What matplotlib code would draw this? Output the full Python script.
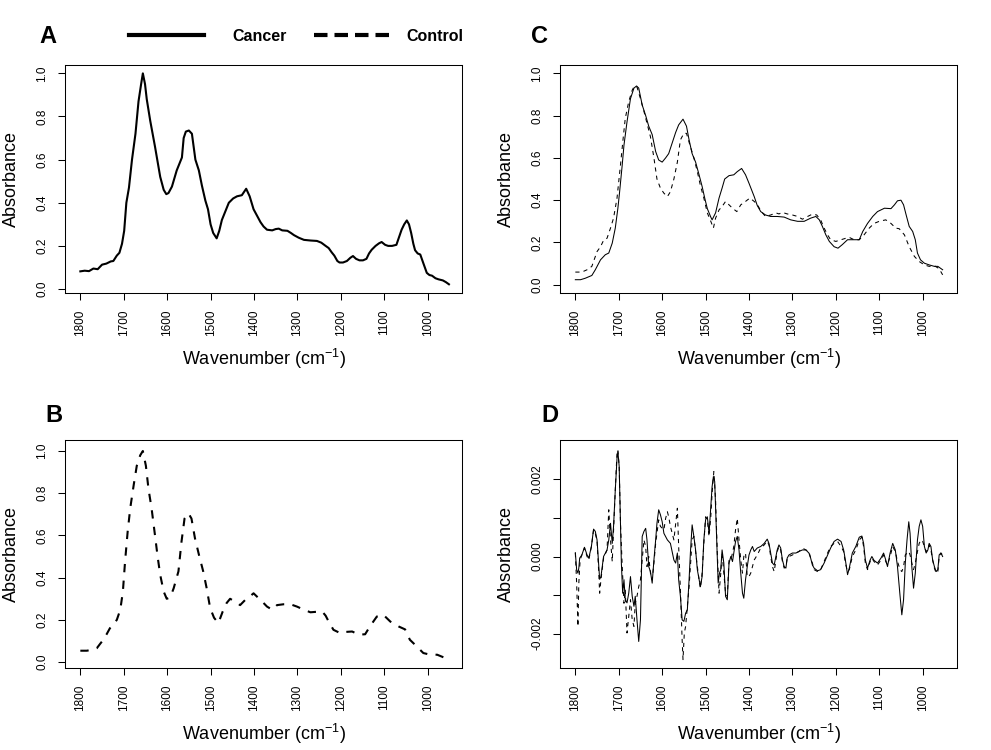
import numpy as np
import matplotlib
matplotlib.use('Agg')
import matplotlib.pyplot as plt
from matplotlib.lines import Line2D

plt.rcParams['font.family'] = ['Liberation Sans', 'DejaVu Sans']
plt.rcParams['mathtext.fontset'] = 'custom'
plt.rcParams['mathtext.rm'] = 'Liberation Sans'
plt.rcParams['mathtext.it'] = 'Liberation Sans:italic'
plt.rcParams['axes.unicode_minus'] = False

# ---- panel A: cancer mean spectrum ----
wn_a = [1800, 1790, 1780, 1770, 1760, 1750, 1740, 1730, 1724, 1716, 1710, 1704, 1699, 1694,
        1688, 1681, 1673, 1666, 1660, 1656, 1651, 1647, 1639, 1628, 1616, 1608, 1602, 1597,
        1589, 1578, 1566, 1562, 1557, 1550, 1543, 1535, 1527, 1520, 1512, 1506, 1500, 1494,
        1486, 1480, 1474, 1466, 1458, 1448, 1439, 1428, 1418, 1410, 1401, 1393, 1385, 1378,
        1370, 1358, 1350, 1343, 1335, 1323, 1315, 1308, 1297, 1285, 1270, 1255, 1245, 1235,
        1228, 1221, 1215, 1208, 1203, 1195, 1186, 1178, 1172, 1165, 1157, 1149, 1141, 1135,
        1129, 1120, 1112, 1106, 1098, 1091, 1082, 1072, 1066, 1060, 1054, 1048, 1043, 1038,
        1033, 1029, 1023, 1017, 1010, 1002, 996, 990, 982, 975, 965, 958, 951]
abs_a = [0.082, 0.085, 0.083, 0.095, 0.092, 0.113, 0.118, 0.128, 0.13, 0.155, 0.168, 0.21, 0.27, 0.40,
         0.47, 0.60, 0.72, 0.87, 0.95, 1.0, 0.95, 0.88, 0.78, 0.66, 0.52, 0.46, 0.44, 0.445,
         0.475, 0.55, 0.61, 0.70, 0.73, 0.735, 0.72, 0.60, 0.55, 0.48, 0.41, 0.37, 0.30, 0.26,
         0.235, 0.27, 0.32, 0.36, 0.40, 0.42, 0.43, 0.435, 0.465, 0.43, 0.37, 0.34, 0.31, 0.29,
         0.275, 0.272, 0.278, 0.28, 0.272, 0.27, 0.26, 0.25, 0.238, 0.228, 0.225, 0.223, 0.215, 0.2,
         0.19, 0.17, 0.155, 0.13, 0.123, 0.123, 0.13, 0.145, 0.153, 0.14, 0.133, 0.133, 0.14, 0.165,
         0.182, 0.2, 0.212, 0.218, 0.205, 0.2, 0.2, 0.205, 0.24, 0.275, 0.3, 0.318, 0.3, 0.26,
         0.21, 0.18, 0.165, 0.16, 0.12, 0.075, 0.065, 0.062, 0.05, 0.045, 0.04, 0.032, 0.022]

# ---- panel B: control mean spectrum ----
wn_b = [1800, 1785, 1770, 1762, 1755, 1747, 1740, 1732, 1724, 1716, 1708, 1702, 1697, 1691,
        1685, 1677, 1670, 1662, 1656, 1649, 1643, 1636, 1628, 1622, 1616, 1608, 1601, 1593,
        1585, 1574, 1567, 1560, 1551, 1544, 1536, 1527, 1517, 1509, 1501, 1492, 1482, 1472,
        1463, 1455, 1444, 1432, 1420, 1410, 1401, 1393, 1385, 1370, 1358, 1347, 1332, 1316,
        1301, 1285, 1270, 1258, 1243, 1235, 1228, 1217, 1201, 1189, 1174, 1158, 1144, 1133,
        1117, 1102, 1086, 1067, 1052, 1041, 1025, 1010, 994, 978, 959]
abs_b = [0.054, 0.054, 0.06, 0.066, 0.085, 0.106, 0.13, 0.16, 0.18, 0.20, 0.248, 0.334, 0.476, 0.618,
         0.73, 0.84, 0.93, 0.98, 1.0, 0.93, 0.82, 0.73, 0.60, 0.50, 0.413, 0.334, 0.30, 0.306,
         0.35, 0.43, 0.57, 0.68, 0.705, 0.68, 0.587, 0.51, 0.43, 0.35, 0.256, 0.21, 0.185, 0.24,
         0.28, 0.30, 0.287, 0.27, 0.295, 0.31, 0.326, 0.31, 0.295, 0.263, 0.248, 0.27, 0.274, 0.274,
         0.263, 0.248, 0.236, 0.238, 0.24, 0.22, 0.192, 0.153, 0.137, 0.143, 0.145, 0.13, 0.132, 0.169,
         0.216, 0.224, 0.192, 0.169, 0.155, 0.106, 0.074, 0.043, 0.035, 0.035, 0.019]

# ---- panel C: both spectra ----
wn_c_cancer = [1800, 1788, 1777, 1762, 1754, 1742, 1731, 1723, 1715, 1708, 1702, 1698, 1692, 1688,
               1681, 1673, 1665, 1659, 1654, 1646, 1638, 1631, 1623, 1615, 1608, 1600, 1592, 1585,
               1577, 1569, 1562, 1552, 1544, 1538, 1531, 1523, 1515, 1508, 1502, 1496, 1488, 1485,
               1477, 1469, 1462, 1456, 1446, 1435, 1427, 1417, 1408, 1400, 1388, 1381, 1373, 1362,
               1350, 1335, 1319, 1304, 1288, 1273, 1258, 1246, 1238, 1231, 1223, 1215, 1204, 1195,
               1185, 1173, 1162, 1146, 1138, 1127, 1115, 1104, 1088, 1073, 1065, 1058, 1050, 1044,
               1038, 1031, 1023, 1017, 1012, 1005, 996, 985, 973, 965, 954]
c_cancer = [0.024, 0.024, 0.031, 0.044, 0.071, 0.118, 0.142, 0.15, 0.197, 0.268, 0.362, 0.44, 0.567, 0.66,
            0.77, 0.88, 0.93, 0.94, 0.93, 0.85, 0.80, 0.75, 0.71, 0.63, 0.59, 0.58, 0.60, 0.62,
            0.67, 0.72, 0.756, 0.783, 0.75, 0.685, 0.62, 0.58, 0.52, 0.465, 0.41, 0.36, 0.32, 0.307,
            0.34, 0.41, 0.457, 0.50, 0.516, 0.52, 0.535, 0.55, 0.52, 0.48, 0.417, 0.375, 0.346, 0.33,
            0.323, 0.323, 0.32, 0.307, 0.30, 0.30, 0.315, 0.323, 0.307, 0.276, 0.236, 0.205, 0.18, 0.173,
            0.19, 0.213, 0.213, 0.213, 0.252, 0.29, 0.323, 0.346, 0.362, 0.36, 0.378, 0.397, 0.40, 0.378,
            0.33, 0.276, 0.252, 0.213, 0.15, 0.118, 0.102, 0.094, 0.087, 0.087, 0.071]

wn_c_control = [1800, 1785, 1773, 1762, 1750, 1742, 1735, 1727, 1719, 1712, 1704, 1696, 1690, 1685,
                1677, 1669, 1664, 1658, 1650, 1642, 1635, 1627, 1619, 1612, 1604, 1596, 1588, 1581,
                1573, 1565, 1558, 1550, 1544, 1536, 1527, 1519, 1512, 1504, 1496, 1488, 1482, 1477,
                1469, 1462, 1454, 1446, 1438, 1428, 1419, 1408, 1398, 1388, 1381, 1373, 1362, 1350,
                1338, 1331, 1323, 1312, 1300, 1288, 1277, 1265, 1254, 1244, 1235, 1227, 1219, 1212,
                1200, 1188, 1177, 1169, 1158, 1146, 1135, 1123, 1112, 1100, 1085, 1073, 1062, 1054,
                1042, 1031, 1019, 1008, 996, 985, 973, 962, 954]
c_control = [0.06, 0.06, 0.071, 0.087, 0.157, 0.18, 0.21, 0.22, 0.268, 0.315, 0.41, 0.567, 0.69, 0.787,
             0.866, 0.92, 0.94, 0.935, 0.88, 0.82, 0.764, 0.70, 0.60, 0.50, 0.457, 0.433, 0.417, 0.44,
             0.50, 0.58, 0.685, 0.716, 0.716, 0.66, 0.60, 0.535, 0.47, 0.41, 0.34, 0.30, 0.268, 0.315,
             0.354, 0.37, 0.394, 0.378, 0.362, 0.346, 0.378, 0.394, 0.41, 0.394, 0.38, 0.35, 0.323, 0.33,
             0.34, 0.335, 0.342, 0.335, 0.33, 0.323, 0.31, 0.323, 0.334, 0.33, 0.307, 0.268, 0.236, 0.213,
             0.205, 0.213, 0.22, 0.224, 0.213, 0.213, 0.236, 0.268, 0.29, 0.30, 0.307, 0.29, 0.268, 0.265,
             0.236, 0.18, 0.134, 0.11, 0.094, 0.087, 0.09, 0.076, 0.047]

# ---- panel D: second derivative spectra (values in units of 1e-3) ----
wn_d_cancer = [1800, 1797, 1794, 1792, 1790, 1785, 1779, 1773, 1769, 1763, 1758, 1754, 1750, 1746,
               1744, 1741, 1735, 1727, 1723, 1719, 1715, 1712, 1708, 1704, 1702, 1699, 1696, 1694,
               1691, 1688, 1685, 1681, 1677, 1673, 1669, 1665, 1662, 1658, 1654, 1650, 1646, 1642,
               1638, 1635, 1631, 1627, 1623, 1619, 1615, 1612, 1608, 1604, 1600, 1596, 1588, 1581,
               1573, 1569, 1565, 1562, 1558, 1554, 1550, 1546, 1542, 1538, 1535, 1531, 1527, 1523,
               1519, 1515, 1512, 1508, 1504, 1500, 1496, 1492, 1488, 1485, 1482, 1479, 1477, 1473,
               1471, 1468, 1465, 1462, 1458, 1454, 1450, 1446, 1442, 1438, 1435, 1431, 1427, 1423,
               1419, 1415, 1412, 1408, 1404, 1400, 1396, 1392, 1388, 1381, 1373, 1365, 1358, 1354,
               1350, 1346, 1342, 1338, 1335, 1331, 1327, 1323, 1319, 1315, 1312, 1308, 1300, 1292,
               1285, 1277, 1269, 1262, 1258, 1254, 1250, 1242, 1235, 1227, 1219, 1212, 1204, 1196,
               1188, 1182, 1178, 1173, 1169, 1162, 1154, 1146, 1140, 1136, 1132, 1127, 1121, 1117,
               1112, 1104, 1096, 1090, 1085, 1081, 1075, 1069, 1063, 1058, 1052, 1048, 1044, 1040,
               1036, 1032, 1029, 1025, 1021, 1017, 1012, 1008, 1004, 1000, 996, 992, 988, 985,
               981, 977, 973, 969, 965, 962, 958, 954]
d_cancer_milli = [0.10, -0.34, -0.43, -0.30, -0.04, 0.04, 0.24, 0.04, -0.04, 0.26, 0.71, 0.65, 0.43, -0.26,
                  -0.59, -0.52, 0.0, 0.17, 0.43, 0.86, 0.34, 0.78, 1.72, 2.54, 2.72, 2.33, 0.86, -0.17,
                  -0.95, -0.6, -1.12, -1.2, -0.95, -0.52, -1.03, -1.29, -1.03, -1.64, -2.2, -1.64, 0.52, 0.65,
                  0.73, 0.43, -0.26, -0.39, -0.69, -0.09, 0.43, 0.86, 1.21, 1.08, 0.9, 0.6, 0.43, 0.34,
                  -0.09, -0.17, 0.09, -0.6, -1.03, -1.64, -1.68, -1.47, -1.38, -0.6, 0.09, 0.82, 0.52, 0.17,
                  -0.34, -0.6, -0.78, -0.52, 0.43, 0.95, 1.03, 0.6, 1.29, 1.81, 2.07, 1.94, 1.29, -0.09,
                  -0.69, -0.43, -0.34, 0.17, -0.17, -1.03, -1.12, -0.17, 0.0, -0.13, 0.09, 0.39, 0.52, 0.17,
                  -0.43, -0.95, -1.08, -0.6, -0.26, 0.04, 0.17, 0.26, 0.13, 0.22, 0.26, 0.34, 0.45, 0.34,
                  0.09, -0.17, -0.22, 0.0, 0.17, 0.30, 0.22, -0.09, -0.26, -0.30, -0.04, 0.04, 0.09, 0.09,
                  0.13, 0.17, 0.17, 0.09, -0.04, -0.22, -0.30, -0.37, -0.34, -0.17, 0.04, 0.22, 0.39, 0.45,
                  0.39, 0.17, -0.09, -0.47, -0.30, 0.09, 0.26, 0.50, 0.53, 0.34, -0.09, -0.30, -0.09, 0.0,
                  -0.10, -0.17, -0.04, 0.09, -0.09, -0.26, 0.09, 0.34, 0.17, -0.26, -1.03, -1.51, -1.12, -0.17,
                  0.43, 0.90, 0.60, -0.26, -0.82, -0.43, 0.43, 0.78, 0.95, 0.78, 0.26, 0.09, 0.17, 0.34,
                  0.26, -0.09, -0.26, -0.39, -0.34, 0.04, 0.09, 0.0]

wn_d_control = [1800, 1797, 1794, 1792, 1789, 1785, 1779, 1773, 1769, 1763, 1758, 1754, 1750, 1746,
                1744, 1741, 1735, 1727, 1723, 1719, 1715, 1712, 1708, 1704, 1702, 1699, 1696, 1692,
                1688, 1685, 1681, 1677, 1673, 1669, 1665, 1662, 1658, 1654, 1650, 1646, 1642, 1638,
                1635, 1631, 1627, 1623, 1619, 1615, 1612, 1608, 1604, 1596, 1592, 1588, 1585, 1581,
                1577, 1573, 1565, 1562, 1558, 1554, 1552, 1549, 1546, 1542, 1538, 1535, 1531, 1527,
                1519, 1515, 1512, 1508, 1504, 1500, 1496, 1492, 1488, 1485, 1481, 1477, 1473, 1469,
                1465, 1462, 1458, 1454, 1450, 1446, 1442, 1438, 1435, 1431, 1427, 1423, 1419, 1415,
                1412, 1408, 1404, 1400, 1396, 1392, 1388, 1381, 1373, 1365, 1358, 1354, 1350, 1346,
                1342, 1338, 1335, 1331, 1327, 1323, 1319, 1315, 1312, 1308, 1300, 1292, 1285, 1277,
                1269, 1262, 1258, 1254, 1250, 1242, 1235, 1227, 1219, 1212, 1204, 1196, 1188, 1182,
                1178, 1173, 1169, 1162, 1154, 1146, 1140, 1136, 1132, 1127, 1121, 1117, 1112, 1104,
                1096, 1090, 1085, 1081, 1075, 1069, 1063, 1058, 1052, 1048, 1044, 1040, 1036, 1032,
                1029, 1025, 1021, 1017, 1012, 1008, 1004, 1000, 996, 992, 988, 985, 981, 977,
                973, 969, 965, 962, 958, 954]
d_control_milli = [0.09, -0.69, -1.81, -0.69, -0.09, 0.04, 0.22, 0.0, -0.09, 0.26, 0.69, 0.6, 0.39, -0.43,
                   -0.95, -0.60, -0.04, 0.17, 1.21, 0.43, -0.13, 0.69, 1.72, 2.70, 2.76, 2.33, 0.86, -0.26,
                   -1.21, -0.86, -1.98, -1.55, -1.12, -1.64, -1.81, -1.21, -1.03, -0.78, -0.60, -0.09, 0.43, 0.26,
                   -0.26, 0.0, -0.43, -0.60, -0.17, 0.34, 0.60, 0.95, 0.78, 0.69, 0.99, 1.16, 1.03, 0.78,
                   0.60, 0.43, 1.25, 0.26, -0.86, -2.16, -2.67, -1.98, -1.81, -1.29, -0.78, -0.26, 0.43, 0.52,
                   -0.26, -0.60, -0.82, -0.43, 0.34, 1.03, 0.95, 0.52, 1.03, 1.64, 2.2, 1.47, 0.09, -0.95,
                   -0.43, 0.09, -0.43, -0.95, -1.03, -0.09, -0.09, 0.09, 0.26, 0.69, 0.99, 0.43, -0.09, -0.43,
                   0.0, 0.09, -0.52, -0.52, -0.43, -0.26, -0.09, 0.04, 0.22, 0.30, 0.40, 0.30, 0.0, -0.26,
                   -0.39, -0.09, 0.13, 0.26, 0.17, -0.13, -0.30, -0.26, -0.04, 0.0, 0.04, 0.09, 0.13, 0.22,
                   0.17, 0.13, -0.04, -0.17, -0.34, -0.39, -0.34, -0.13, 0.09, 0.26, 0.34, 0.39, 0.26, 0.13,
                   -0.17, -0.39, -0.34, 0.0, 0.17, 0.43, 0.50, 0.26, -0.17, -0.34, -0.13, -0.04, -0.13, -0.22,
                   -0.09, 0.04, -0.13, -0.22, 0.0, 0.26, 0.13, -0.13, -0.34, -0.39, -0.26, 0.04, 0.09, 0.13,
                   0.04, -0.17, -0.34, -0.17, 0.13, 0.34, 0.43, 0.39, 0.26, 0.13, 0.17, 0.30, 0.17, -0.09,
                   -0.30, -0.43, -0.39, 0.0, 0.09, 0.04]

d_cancer = np.array(d_cancer_milli) * 1e-3
d_control = np.array(d_control_milli) * 1e-3

x_ticks = [1800, 1700, 1600, 1500, 1400, 1300, 1200, 1100, 1000]
abs_ticks = [0.0, 0.2, 0.4, 0.6, 0.8, 1.0]
abs_labels = ['0.0', '0.2', '0.4', '0.6', '0.8', '1.0']
d_ticks = [-0.002, -0.001, 0.0, 0.001, 0.002]
d_labels = ['-0.002', '', '0.000', '', '0.002']


def style(ax, ylim, yticks, ylabels):
    ax.set_xlim(1835.3, 920.2)
    ax.set_ylim(*ylim)
    ax.set_xticks(x_ticks)
    ax.set_xticklabels([str(t) for t in x_ticks], rotation=90)
    ax.set_yticks(yticks)
    ax.set_yticklabels(ylabels, rotation=90, va='center')
    ax.tick_params(direction='out', length=5, width=0.75, labelsize=8.5, pad=7)
    for s in ax.spines.values():
        s.set_linewidth(0.75)
    ax.set_xlabel('Wavenumber (cm$^{-1}$)', fontsize=13)
    ax.set_ylabel('Absorbance', fontsize=13)
    ax.xaxis.set_label_coords(0.5, -0.235)
    ax.yaxis.set_label_coords(-0.113, 0.5)


fig = plt.figure(figsize=(9.91, 7.5), dpi=100)
w, h = 0.4009, 0.304
ax_a = fig.add_axes([0.0656, 0.6093, w, h])
ax_c = fig.add_axes([0.5651, 0.6093, w, h])
ax_b = fig.add_axes([0.0656, 0.1093, w, h])
ax_d = fig.add_axes([0.5651, 0.1093, w, h])

ax_a.plot(wn_a, abs_a, color='black', lw=1.5)
style(ax_a, (-0.0185, 1.0386), abs_ticks, abs_labels)

ax_b.plot(wn_b, abs_b, color='black', lw=1.5, ls=(0, (4, 4)))
style(ax_b, (-0.028, 1.052), abs_ticks, abs_labels)

ax_c.plot(wn_c_cancer, c_cancer, color='black', lw=0.75)
ax_c.plot(wn_c_control, c_control, color='black', lw=0.75, ls=(0, (4, 4)))
style(ax_c, (-0.039, 1.039), abs_ticks, abs_labels)

ax_d.plot(wn_d_cancer, d_cancer, color='black', lw=0.75)
ax_d.plot(wn_d_control, d_control, color='black', lw=0.75, ls=(0, (4, 4)))
style(ax_d, (-0.002888, 0.003017), d_ticks, d_labels)

# panel letters
for letter, (px, py) in {'A': (39, 43), 'B': (45, 422), 'C': (531, 43), 'D': (541, 422)}.items():
    fig.text(px / 991, 1 - py / 750, letter, fontsize=17, fontweight='bold',
             ha='left', va='baseline')

# legend at the top: two single-entry legends so each keeps its own spacing
legend_items = [('Cancer', '-', 129, 1.75), ('Control', (0, (3.24, 1.68)), 314, 1.06)]
for label, style_ls, left_px, textpad in legend_items:
    handle = Line2D([], [], color='black', lw=3, ls=style_ls)
    fig.legend([handle], [label], loc='center left', bbox_to_anchor=(left_px / 991, 1 - 36.5 / 750),
               frameon=False, handlelength=4.7, handletextpad=textpad, borderpad=0,
               borderaxespad=0, prop={'weight': 'bold', 'size': 11.5})

fig.savefig('out.png', dpi=100)
